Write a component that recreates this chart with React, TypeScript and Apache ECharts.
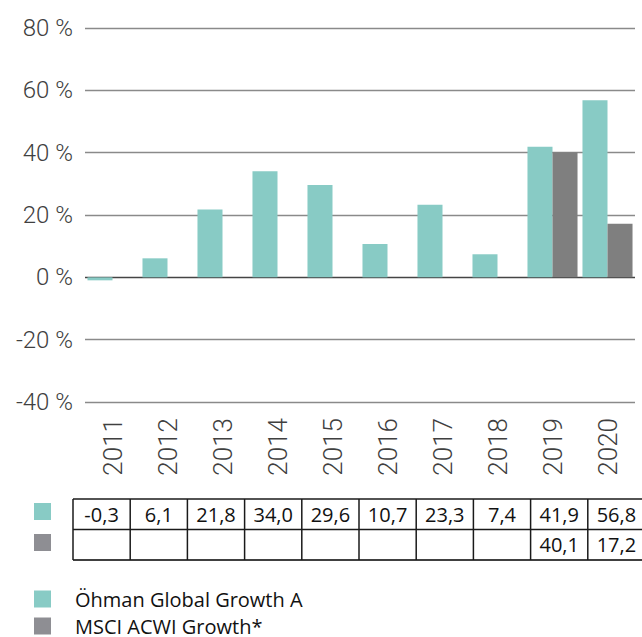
import React, { useEffect, useRef } from "react";
import * as echarts from "echarts";

const years = ["2011", "2012", "2013", "2014", "2015", "2016", "2017", "2018", "2019", "2020"];
const fundName = "Öhman Global Growth A";
const indexName = "MSCI ACWI Growth*";
const fundValues = [-0.3, 6.1, 21.8, 34.0, 29.6, 10.7, 23.3, 7.4, 41.9, 56.8];
const indexValues: (number | null)[] = [null, null, null, null, null, null, null, null, 40.1, 17.2];
const yMin = -40;
const yMax = 80;
const yStep = 20;

const TEAL = "#88cbc5";
const GRAY_BAR = "#7f7f7f";
const GRAY_KEY = "#8e8e93";
const LABEL = "#404040";
const GRID = "#8a8a8a";
const ZERO = "#444444";

const fmt = (v: number | null) => (v == null ? "" : v.toFixed(1).replace(".", ","));

function buildTable() {
  const left = 73;
  const colW = 57.2;
  const top = 499;
  const rowH = 30.5;
  const right = left + colW * years.length;
  const els: any[] = [];
  els.push({ type: "rect", shape: { x: 34, y: 503, width: 17, height: 17 }, style: { fill: TEAL } });
  els.push({ type: "rect", shape: { x: 34, y: 534, width: 17, height: 17 }, style: { fill: GRAY_KEY } });
  [0, 1].forEach((r) => {
    els.push({
      type: "line",
      shape: { x1: left, y1: top + r * rowH, x2: right, y2: top + r * rowH },
      style: { stroke: "#1a1a1a", lineWidth: 1.5 },
    });
  });
  els.push({
    type: "line",
    shape: { x1: left, y1: top + 2 * rowH, x2: right, y2: top + 2 * rowH },
    style: { stroke: "#404040", lineWidth: 2 },
  });
  for (let i = 0; i <= years.length; i++) {
    els.push({
      type: "line",
      shape: { x1: left + i * colW, y1: top, x2: left + i * colW, y2: top + 2 * rowH },
      style: { stroke: "#1a1a1a", lineWidth: 1.5 },
    });
  }
  const rows = [fundValues, indexValues];
  rows.forEach((vals, r) => {
    vals.forEach((v, i) => {
      if (v == null) return;
      els.push({
        type: "text",
        x: left + (i + 0.5) * colW,
        y: top + (r + 0.5) * rowH,
        style: {
          text: fmt(v),
          fill: "#111",
          font: '20px "Open Sans"',
          align: "center",
          verticalAlign: "middle",
        },
      });
    });
  });
  return els;
}

const legendBase = {
  orient: "vertical",
  left: 34,
  padding: 0,
  itemWidth: 17,
  itemHeight: 17,
  icon: "rect",
  selectedMode: false,
  textStyle: {
    fontFamily: "Open Sans",
    fontSize: 20,
    color: "#111",
    padding: [0, 0, 0, 19],
  },
};

export default function App() {
  const ref = useRef<HTMLDivElement>(null);
  useEffect(() => {
    if (!ref.current) return;
    const chart = echarts.init(ref.current, undefined, { renderer: "svg" });
    const nLines = Math.round((yMax - yMin) / yStep) + 1;
    const splitColors = Array.from({ length: nLines }, (_, i) =>
      yMin + i * yStep === 0 ? ZERO : GRID
    );
    chart.setOption({
      animation: false,
      backgroundColor: "#fff",
      grid: { left: 85, right: 7, top: 28, bottom: 235, containLabel: false },
      legend: [
        { ...legendBase, top: 589, data: [{ name: fundName, itemStyle: { color: TEAL } }] },
        { ...legendBase, top: 616, data: [{ name: indexName, itemStyle: { color: GRAY_KEY } }] },
      ],
      xAxis: {
        type: "category",
        data: years,
        position: "bottom",
        axisLine: { show: false, onZero: false },
        axisTick: { show: false },
        axisLabel: {
          rotate: 90,
          margin: 16,
          fontFamily: "Roboto",
          fontWeight: 300,
          fontSize: 26,
          color: LABEL,
        },
        splitLine: { show: false },
      },
      yAxis: {
        type: "value",
        min: yMin,
        max: yMax,
        interval: yStep,
        axisLine: { show: false },
        axisTick: { show: false },
        axisLabel: {
          formatter: (v: number) => `${v} %`,
          margin: 12,
          fontFamily: "Roboto",
          fontWeight: 300,
          fontSize: 24,
          color: LABEL,
        },
        splitLine: { show: true, lineStyle: { color: splitColors, width: 1.4 } },
      },
      series: [
        {
          name: fundName,
          type: "bar",
          data: fundValues,
          itemStyle: { color: TEAL },
          barGap: "0%",
          barCategoryGap: "9%",
          barMinHeight: 3,
        },
        {
          name: indexName,
          type: "bar",
          data: indexValues,
          itemStyle: { color: GRAY_BAR },
          barGap: "0%",
          barCategoryGap: "9%",
        },
      ],
      graphic: buildTable(),
    });
    return () => chart.dispose();
  }, []);
  return (
    <div
      ref={ref}
      style={{ position: "absolute", left: 0, top: 0, width: 642, height: 637 }}
    />
  );
}
